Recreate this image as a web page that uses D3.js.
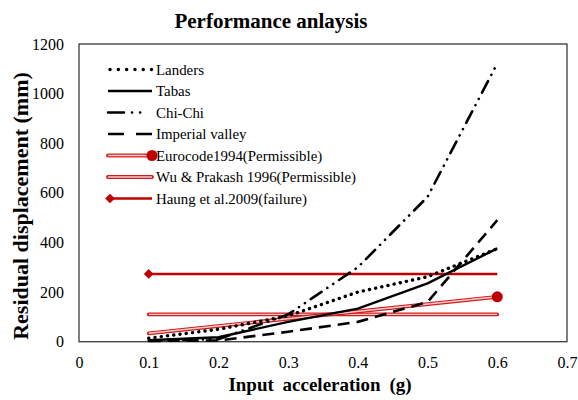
<!DOCTYPE html>
<html>
<head>
<meta charset="utf-8">
<script src="https://cdn.jsdelivr.net/npm/d3@7"></script>
<style>
  html, body { margin: 0; padding: 0; background: #fff; }
  svg { display: block; }
  svg text { font-family: "Liberation Serif", "Times New Roman", serif !important; }
</style>
</head>
<body>
<svg id="chart" width="578" height="400"></svg>
<script>
// Input acceleration (g) at which each record was run
const accel = [0.1, 0.2, 0.3, 0.4, 0.5, 0.6];

// Residual displacement (mm) per earthquake record
const landers  = [14, 50, 104, 200, 262, 375];
const tabas    = [6, 18, 80, 133, 235, 376];
const chiChi   = [5, 10, 110, 300, 584, 1122];
const imperial = [3, 5, 40, 80, 160, 490];

// Criteria lines (start and end acceleration, displacement in mm)
const criteriaAccel = [0.1, 0.6];
const eurocode  = [34, 181];
const wuPrakash = [110, 110];
const haung     = [273, 273];

// Axis ticks
const xTicks = [0, 0.1, 0.2, 0.3, 0.4, 0.5, 0.6, 0.7];
const yTicks = [0, 200, 400, 600, 800, 1000, 1200];

const svg = d3.select("#chart");
const plotLeft = 79, plotRight = 567, plotTop = 44, plotBottom = 341.7;

const x = d3.scaleLinear().domain([0, 0.7]).range([plotLeft, plotRight]);
const y = d3.scaleLinear().domain([0, 1200]).range([plotBottom, plotTop]);

// Title
svg.append("text")
  .attr("x", 271).attr("y", 28)
  .attr("text-anchor", "middle")
  .attr("font-size", 21).attr("font-weight", "bold")
  .text("Performance anlaysis");

// Plot frame
svg.append("rect")
  .attr("x", plotLeft).attr("y", plotTop)
  .attr("width", plotRight - plotLeft).attr("height", plotBottom - plotTop)
  .attr("fill", "none").attr("stroke", "#3a3a3a").attr("stroke-width", 1.3);

// Axes (labels only, no tick marks)
const xAxis = d3.axisBottom(x).tickValues(xTicks).tickSize(0).tickPadding(0)
  .tickFormat(d => d === 0 ? "0" : d3.format(".1f")(d));
svg.append("g").attr("transform", `translate(0,${plotBottom + 15})`).call(xAxis)
  .call(g => g.select(".domain").remove())
  .call(g => g.selectAll("text").attr("font-size", 16).attr("fill", "#000"));

const yAxis = d3.axisLeft(y).tickValues(yTicks).tickSize(0).tickPadding(0)
  .tickFormat(d3.format("d"));
svg.append("g").attr("transform", `translate(64,0)`).call(yAxis)
  .call(g => g.select(".domain").remove())
  .call(g => g.selectAll("text").attr("font-size", 16).attr("fill", "#000"));

// Axis titles
svg.append("text")
  .attr("x", 320).attr("y", 391)
  .attr("text-anchor", "middle")
  .attr("font-size", 19).attr("font-weight", "bold")
  .attr("word-spacing", 4)
  .text("Input acceleration (g)");

svg.append("text")
  .attr("transform", "translate(28,206) rotate(-90)")
  .attr("text-anchor", "middle")
  .attr("font-size", 22).attr("font-weight", "bold")
  .text("Residual displacement (mm)");

// Series styles
const styles = {
  landers:  { dash: "0.1 6.2", width: 3.4, cap: "round" },
  tabas:    { dash: null,      width: 2.4, cap: "butt" },
  chiChi:   { dash: "13 7 0.1 7 0.1 7", width: 2.6, cap: "round" },
  imperial: { dash: "12 7",    width: 2.6, cap: "butt" }
};

const line = d3.line().x(d => x(d[0])).y(d => y(d[1]));

function drawSeries(values, st) {
  svg.append("path")
    .datum(accel.map((a, i) => [a, values[i]]))
    .attr("d", line)
    .attr("fill", "none").attr("stroke", "#000")
    .attr("stroke-width", st.width)
    .attr("stroke-linecap", st.cap)
    .attr("stroke-dasharray", st.dash);
}

// Double red line used for the permissible criteria
function drawDouble(sel) {
  sel.append("path").attr("class", "outer")
    .attr("fill", "none").attr("stroke", "#d01c1c").attr("stroke-width", 3.8)
    .attr("stroke-linecap", "round");
  sel.append("path").attr("class", "inner")
    .attr("fill", "none").attr("stroke", "#f6cccc").attr("stroke-width", 1.4);
}

const critLine = vals => line(criteriaAccel.map((a, i) => [a, vals[i]]));

// Wu & Prakash
const wu = svg.append("g");
drawDouble(wu);
wu.selectAll("path").attr("d", critLine(wuPrakash));

// Eurocode with end marker
const ec = svg.append("g");
drawDouble(ec);
ec.selectAll("path").attr("d", critLine(eurocode));
ec.append("circle")
  .attr("cx", x(criteriaAccel[1])).attr("cy", y(eurocode[1]))
  .attr("r", 5.5).attr("fill", "#c00000");

// Haung et al. with start marker
svg.append("path")
  .attr("d", critLine(haung))
  .attr("fill", "none").attr("stroke", "#c00000").attr("stroke-width", 2.6);
svg.append("path")
  .attr("d", d3.symbol(d3.symbolDiamond2, 60)())
  .attr("transform", `translate(${x(criteriaAccel[0])},${y(haung[0])})`)
  .attr("fill", "#c00000");

drawSeries(imperial, styles.imperial);
drawSeries(tabas, styles.tabas);
drawSeries(chiChi, styles.chiChi);
drawSeries(landers, styles.landers);

// Legend
const legendItems = [
  { name: "Landers", kind: "landers" },
  { name: "Tabas", kind: "tabas" },
  { name: "Chi-Chi", kind: "chiChi" },
  { name: "Imperial valley", kind: "imperial" },
  { name: "Eurocode1994(Permissible)", kind: "eurocode" },
  { name: "Wu & Prakash 1996(Permissible)", kind: "wu" },
  { name: "Haung et al.2009(failure)", kind: "haung" }
];
const lx0 = 108, lx1 = 152, ly0 = 69.5, lstep = 21.5;

legendItems.forEach((it, i) => {
  const yy = ly0 + i * lstep;
  const g = svg.append("g");
  const seg = `M${lx0},${yy}L${lx1},${yy}`;
  if (styles[it.kind]) {
    const st = styles[it.kind];
    let dash = st.dash;
    if (it.kind === "chiChi") dash = "16 8 0.1 8 0.1 20";
    if (it.kind === "imperial") dash = "16 12";
    if (it.kind === "landers") dash = "0.1 8.2";
    g.append("path").attr("d", it.kind === "landers" ? `M${lx0 + 2},${yy}L${lx1},${yy}` : seg)
      .attr("fill", "none").attr("stroke", "#000")
      .attr("stroke-width", st.width).attr("stroke-linecap", st.cap)
      .attr("stroke-dasharray", dash);
  } else if (it.kind === "eurocode" || it.kind === "wu") {
    drawDouble(g);
    g.selectAll("path").attr("d", seg);
    if (it.kind === "eurocode") {
      g.append("circle").attr("cx", lx1).attr("cy", yy).attr("r", 5.5).attr("fill", "#c00000");
    }
  } else {
    g.append("path").attr("d", `M${lx0 + 2},${yy}L${lx1},${yy}`)
      .attr("fill", "none").attr("stroke", "#c00000").attr("stroke-width", 2.6);
    g.append("path")
      .attr("d", d3.symbol(d3.symbolDiamond2, 60)())
      .attr("transform", `translate(${lx0 + 2},${yy})`)
      .attr("fill", "#c00000");
  }
  svg.append("text")
    .attr("x", lx1 + 4).attr("y", yy + 5)
    .attr("font-size", 14.9)
    .text(it.name);
});
</script>
</body>
</html>
